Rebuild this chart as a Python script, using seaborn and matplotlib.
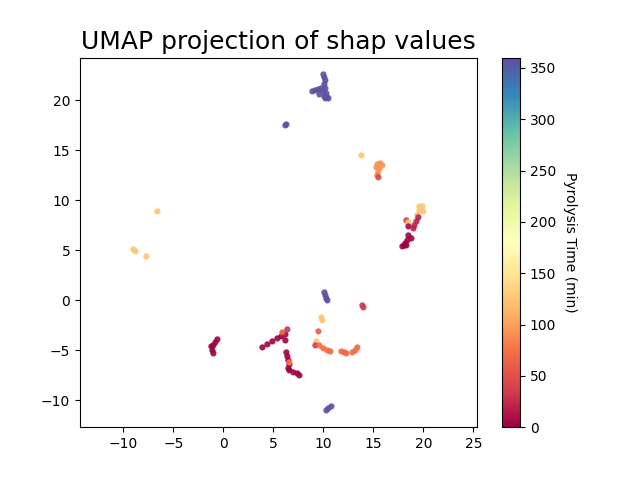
import matplotlib
matplotlib.use("Agg")
import matplotlib.pyplot as plt
import matplotlib.colors as mcolors
import seaborn as sns
import pandas as pd

# UMAP embedding (x, y) and pyrolysis time (min) per sample
umap_x = [
    # top purple cluster
    10.0, 10.1, 10.2, 10.1, 10.2, 10.0, 9.8, 9.5, 9.2, 8.9, 9.6, 10.3, 10.2, 10.5, 10.4, 10.1,
    6.2, 6.3,
    # orange cluster
    13.8, 15.4, 15.7, 15.9, 15.6, 15.3, 15.5, 15.4, 15.6, 15.5,
    # right cluster
    19.6, 19.9, 19.6, 20.0, 19.4, 18.3, 18.5, 18.5, 19.5, 19.3, 19.1, 19.0,
    18.5, 18.4, 18.2, 18.8, 18.1, 17.9, 18.3,
    # left light orange
    -6.6, -9.0, -8.8, -7.7,
    # bottom middle
    10.1, 10.2, 10.3, 10.4, 13.9, 14.0, 9.8, 9.9, 9.5, 9.3, 9.2,
    9.6, 10.0, 10.4, 10.7, 11.8, 12.1, 12.3, 12.9, 13.2, 13.4,
    # dark red groups
    -0.6, -0.8, -1.0, -1.2, -1.1, -1.0,
    3.9, 4.4, 4.9, 5.4, 5.8, 6.2, 6.4, 5.9, 6.2,
    6.3, 6.4, 6.5, 6.6, 6.5, 6.6, 7.0, 7.4, 7.6, 6.6,
    # bottom purple
    10.3, 10.5, 10.8,
]
umap_y = [
    22.6, 22.3, 22.0, 21.6, 21.2, 20.9, 21.2, 21.1, 21.0, 20.9, 20.6, 20.7, 20.2, 20.2, 20.3, 20.4,
    17.5, 17.6,
    14.5, 13.6, 13.7, 13.5, 13.2, 13.3, 12.9, 12.5, 13.6, 12.3,
    9.4, 9.4, 9.0, 8.9, 8.5, 8.0, 7.8, 7.4, 8.3, 7.9, 7.5, 7.2,
    6.5, 6.0, 5.7, 6.2, 5.5, 5.4, 5.5,
    8.9, 5.1, 4.9, 4.4,
    0.8, 0.5, 0.2, 0.0, -0.5, -0.7, -1.7, -2.0, -3.1, -4.1, -4.5,
    -4.5, -4.8, -5.0, -5.1, -5.1, -5.2, -5.3, -5.2, -5.0, -4.7,
    -3.9, -4.2, -4.5, -4.6, -5.0, -5.3,
    -4.7, -4.4, -4.1, -3.8, -3.6, -3.4, -2.9, -3.2, -4.0,
    -5.2, -5.6, -6.0, -6.4, -6.8, -7.0, -7.2, -7.3, -7.5, -6.2,
    -11.0, -10.8, -10.6,
]
pyro_time = [
    360, 360, 360, 360, 360, 360, 360, 360, 360, 360, 360, 360, 360, 360, 360, 360,
    360, 360,
    125, 95, 95, 95, 95, 95, 95, 80, 95, 45,
    125, 125, 125, 125, 110, 35, 125, 5, 20, 20, 20, 20,
    0, 0, 0, 0, 0, 0, 0,
    125, 125, 125, 125,
    360, 360, 360, 360, 35, 35, 125, 125, 60, 125, 35,
    70, 70, 70, 70, 70, 70, 70, 70, 70, 70,
    0, 0, 0, 0, 0, 0,
    0, 0, 0, 0, 0, 0, 30, 60, 0,
    0, 0, 0, 0, 0, 0, 0, 0, 0, 80,
    360, 360, 360,
]

df = pd.DataFrame({"x": umap_x, "y": umap_y, "time": pyro_time})

fig, ax = plt.subplots(figsize=(6.4, 4.8), dpi=100)
norm = mcolors.Normalize(vmin=0, vmax=360)
sns.scatterplot(data=df, x="x", y="y", hue="time", palette="Spectral",
                hue_norm=norm, s=20, linewidth=0, alpha=0.9, legend=False, ax=ax)
ax.set_aspect("equal", "datalim")
ax.set_xlabel("")
ax.set_ylabel("")
ax.set_title("UMAP projection of shap values", fontsize=18)

sm = plt.cm.ScalarMappable(norm=norm, cmap="Spectral")
cbar = fig.colorbar(sm, ax=ax)
cbar.set_label("Pyrolysis Time (min)", rotation=270, labelpad=15)

fig.savefig("out.png", dpi=100)
